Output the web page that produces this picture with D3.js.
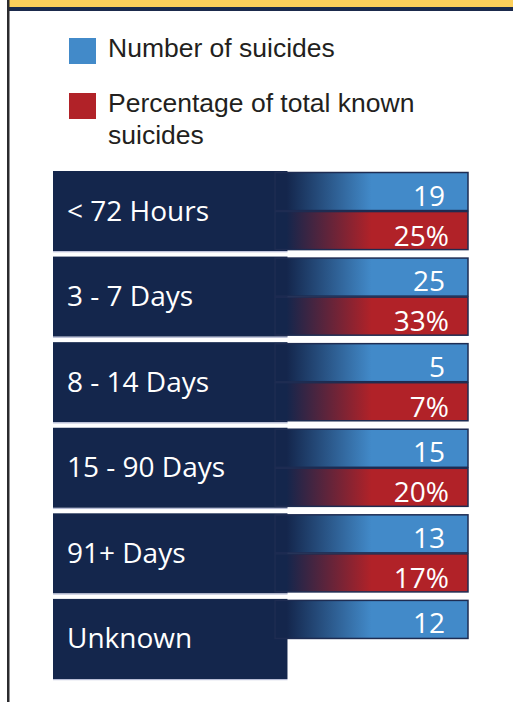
<!DOCTYPE html>
<html><head><meta charset="utf-8">
<script src="https://cdn.jsdelivr.net/npm/d3@7"></script>
<style>body{margin:0;background:#fff}svg{display:block}</style>
</head><body>
<script>
const categories = ["< 72 Hours", "3 - 7 Days", "8 - 14 Days", "15 - 90 Days", "91+ Days", "Unknown"];
const counts = [19, 25, 5, 15, 13, 12];
const percentages = [25, 33, 7, 20, 17, null];
const legendLabels = [["Number of suicides"], ["Percentage of total known", "suicides"]];

const W = 513, H = 702;
const navy = "#14264c", blue = "#428ac9", red = "#b12228", edge = "#1e2c52";
const svg = d3.select("body").append("svg").attr("width", W).attr("height", H);
const defs = svg.append("defs");
function grad(id, c) {
  const g = defs.append("linearGradient").attr("id", id).attr("x1", 0).attr("x2", 1).attr("y1", 0).attr("y2", 0);
  g.append("stop").attr("offset", "0%").attr("stop-color", navy);
  g.append("stop").attr("offset", "6%").attr("stop-color", navy);
  g.append("stop").attr("offset", "50%").attr("stop-color", c);
  g.append("stop").attr("offset", "100%").attr("stop-color", c);
}
grad("gBlue", blue); grad("gRed", red);

// frame
svg.append("rect").attr("x", 9).attr("y", 0).attr("width", W - 9).attr("height", 7).attr("fill", "#fdd05b");
svg.append("rect").attr("x", 9).attr("y", 7).attr("width", W - 9).attr("height", 4).attr("fill", "#1b2a4c");
svg.append("rect").attr("x", 7).attr("y", 0).attr("width", 2.5).attr("height", H).attr("fill", "#2b2b2e");

// legend
const legColors = [blue, red];
const leg = svg.append("g");
[38, 93].forEach((y, i) => {
  leg.append("rect").attr("x", 69).attr("y", y).attr("width", 27).attr("height", 26).attr("fill", legColors[i]);
  const t = leg.append("text").attr("x", 108).attr("y", y + 19)
    .attr("font-family", "Liberation Sans, Arial, sans-serif").attr("font-size", 26.5).attr("fill", "#231f20");
  legendLabels[i].forEach((s, j) => t.append("tspan").attr("x", 108).attr("dy", j ? 32 : 0).text(s));
});

// rows
const y = d3.scaleBand().domain(categories).range([171, 679]).paddingInner(0.064).paddingOuter(0);
const x = d3.scaleLinear().domain([0, 1]).range([53, 468]);
const boxRight = x(0.565), barLeft = x(0.535);
const rows = svg.append("g").selectAll("g").data(categories).join("g")
  .attr("transform", d => `translate(0,${y(d)})`);
const bh = y.bandwidth();
rows.append("rect").attr("x", x(0)).attr("y", 0).attr("width", boxRight - x(0)).attr("height", bh).attr("fill", navy);
rows.append("rect").attr("x", x(0)).attr("y", bh).attr("width", boxRight - x(0)).attr("height", 1.2).attr("fill", "#b8bdd6");
rows.append("text").attr("x", 67).attr("y", bh / 2 + 9.5)
  .attr("font-family", "Open Sans, sans-serif").attr("font-size", 28).attr("fill", "#fff").text(d => d);

const barH = (bh - 2) / 2;
const numFont = 28;
rows.each(function (d, i) {
  const g = d3.select(this);
  g.append("rect").attr("x", barLeft).attr("y", 1.5).attr("width", x(1) - barLeft).attr("height", barH - 1)
    .attr("fill", "url(#gBlue)").attr("stroke", edge).attr("stroke-width", 1.5);
  g.append("text").attr("x", 445).attr("y", 1.5 + barH - 6).attr("text-anchor", "end")
    .attr("font-family", "Open Sans, sans-serif").attr("font-size", numFont).attr("fill", "#fff").text(counts[i]);
  if (percentages[i] != null) {
    g.append("rect").attr("x", barLeft).attr("y", 1.5 + barH).attr("width", x(1) - barLeft).attr("height", barH - 1)
      .attr("fill", "url(#gRed)").attr("stroke", edge).attr("stroke-width", 1.5);
    g.append("text").attr("x", 449).attr("y", 1.5 + 2 * barH - 5).attr("text-anchor", "end")
      .attr("font-family", "Open Sans, sans-serif").attr("font-size", numFont).attr("fill", "#fff").text(percentages[i] + "%");
  }
});
</script>
</body></html>
